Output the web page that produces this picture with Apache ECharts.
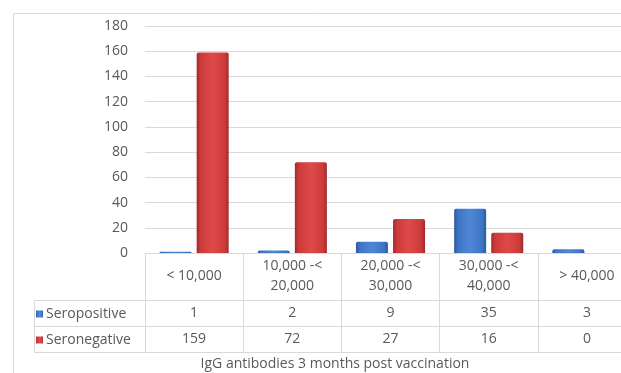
<!DOCTYPE html>
<html>
<head>
<meta charset="utf-8">
<title>IgG antibodies 3 months post vaccination</title>
<script src="https://cdn.jsdelivr.net/npm/echarts@6/dist/echarts.min.js"></script>
<style>
  html, body { margin: 0; padding: 0; background: #fff; }
  #chart { width: 621px; height: 373px; }
</style>
</head>
<body>
<div id="chart"></div>
<script>
// data
var categories = ['< 10,000', '10,000 -<\n20,000', '20,000 -<\n30,000', '30,000 -<\n40,000', '> 40,000'];
var seropositive = [1, 2, 9, 35, 3];
var seronegative = [159, 72, 27, 16, 0];
var yTicks = { min: 0, max: 180, step: 20 };
var axisTitle = 'IgG antibodies 3 months post vaccination';

var font = '"Open Sans", "Liberation Sans", sans-serif';
var txt = '#595959';
var lineCol = '#d9d9d9';

function barFill(dark, main, light) {
  return new echarts.graphic.LinearGradient(0, 0, 1, 0, [
    { offset: 0, color: dark },
    { offset: 0.12, color: main },
    { offset: 0.5, color: light },
    { offset: 0.88, color: main },
    { offset: 1, color: dark }
  ]);
}

var myChart = echarts.init(document.getElementById('chart'));

// table rows drawn as extra category axes under the plot
function rowAxis(values, offset) {
  return {
    type: 'category',
    position: 'bottom',
    offset: offset,
    data: values.map(String),
    axisLine: { show: true, lineStyle: { color: lineCol } },
    axisTick: { show: true, length: 26, lineStyle: { color: lineCol } },
    axisLabel: { color: txt, fontFamily: font, fontSize: 14, margin: 13, verticalAlign: 'middle' }
  };
}

myChart.setOption({
  animation: false,
  textStyle: { fontFamily: font },
  grid: { left: 145, top: 26, height: 227, width: 491, outerBoundsMode: 'none', containLabel: false },
  legend: {
    orient: 'vertical',
    left: 31,
    top: 302,
    itemWidth: 7,
    itemHeight: 7,
    itemGap: 12,
    icon: 'rect',
    textStyle: { color: txt, fontSize: 14, fontFamily: font, padding: [0, 0, 0, -2] },
    data: ['Seropositive', 'Seronegative']
  },
  xAxis: [
    {
      type: 'category',
      data: categories,
      axisLine: { show: true, lineStyle: { color: lineCol } },
      axisTick: { show: true, length: 47, lineStyle: { color: lineCol } },
      axisLabel: { color: txt, fontFamily: font, fontSize: 14, lineHeight: 20, margin: 23,
        verticalAlign: 'middle' }
    },
    rowAxis(seropositive, 47),
    rowAxis(seronegative, 73),
    {
      type: 'category',
      position: 'bottom',
      offset: 99,
      data: categories,
      axisLine: { show: true, lineStyle: { color: lineCol } },
      axisTick: { show: false },
      axisLabel: { show: false }
    }
  ],
  yAxis: {
    type: 'value',
    min: yTicks.min,
    max: yTicks.max,
    interval: yTicks.step,
    axisLine: { show: false },
    axisTick: { show: false },
    axisLabel: { color: txt, fontFamily: font, fontSize: 14, margin: 17 },
    splitLine: { lineStyle: { color: lineCol } }
  },
  series: [
    {
      name: 'Seropositive',
      type: 'bar',
      data: seropositive,
      barWidth: 32,
      barGap: '16%',
      itemStyle: { color: barFill('#2c5a9c', '#3d74c4', '#4f86d6'), borderRadius: [2, 2, 0, 0] }
    },
    {
      name: 'Seronegative',
      type: 'bar',
      data: seronegative,
      barWidth: 32,
      itemStyle: { color: barFill('#9e2a2a', '#cc3a3a', '#dc4a4a'), borderRadius: [2, 2, 0, 0] }
    }
  ],
  graphic: [
    { type: 'rect', shape: { x: 13.5, y: 13.5, width: 700, height: 500 }, style: { fill: null, stroke: lineCol, lineWidth: 1 }, silent: true },
    { type: 'polyline', shape: { points: [[145, 300.5], [34.5, 300.5], [34.5, 352.5], [145, 352.5]] }, style: { fill: null, stroke: lineCol, lineWidth: 1 }, silent: true },
    { type: 'line', shape: { x1: 34.5, y1: 326.5, x2: 145, y2: 326.5 }, style: { stroke: lineCol, lineWidth: 1 }, silent: true },
    { type: 'text', x: 335, y: 364, style: { text: axisTitle, fill: txt, font: '14px ' + font, textAlign: 'center', textVerticalAlign: 'middle' }, silent: true }
  ]
});
</script>
</body>
</html>
